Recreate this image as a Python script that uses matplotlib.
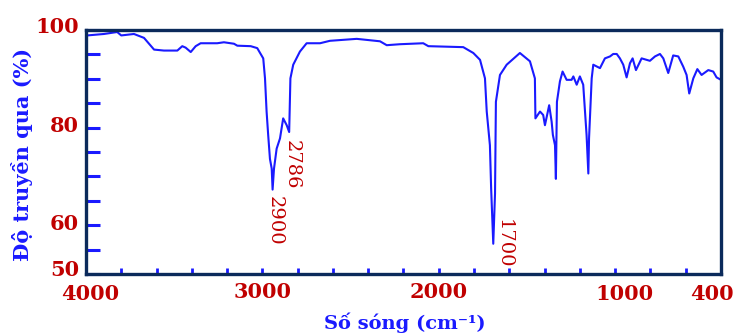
import matplotlib
matplotlib.use('Agg')
import matplotlib.pyplot as plt
import matplotlib.transforms as mtransforms

# IR spectrum (wavenumber in cm-1, transmittance in %)
wavenumber = [3993, 3898, 3823, 3800, 3728, 3671, 3614, 3558, 3482, 3454,
              3435, 3406, 3378, 3350, 3256, 3218, 3161, 3142, 3066, 3029,
              2995, 2985, 2976, 2967, 2957, 2947, 2942, 2934, 2919, 2900,
              2882, 2862, 2848, 2841, 2825, 2787, 2749, 2673, 2617, 2465,
              2333, 2295, 2220, 2088, 2059, 1861, 1804, 1766, 1738, 1728,
              1710, 1703, 1691, 1681, 1676, 1653, 1615, 1540, 1483, 1455,
              1452, 1426, 1408, 1398, 1374, 1360, 1353, 1341, 1336, 1330,
              1313, 1298, 1275, 1247, 1237, 1218, 1200, 1181, 1162, 1152,
              1148, 1133, 1124, 1086, 1058, 1029, 1011, 991, 973, 954,
              935, 916, 901, 882, 850, 803, 774, 746, 727, 699,
              671, 642, 614, 595, 580, 557, 534, 510, 472, 444,
              425, 400]
transmittance = [98.9, 99.2, 99.6, 98.9, 99.2, 98.4, 96.0, 95.8, 95.8, 96.7,
                 96.4, 95.5, 96.7, 97.3, 97.3, 97.5, 97.2, 96.8, 96.7, 96.3,
                 94.2, 90.1, 83.3, 78.5, 73.6, 71.6, 67.3, 71.6, 75.7, 77.8,
                 81.9, 80.5, 79.1, 90.1, 92.9, 95.6, 97.3, 97.3, 97.8, 98.2,
                 97.7, 96.9, 97.1, 97.3, 96.7, 96.5, 95.3, 93.9, 90.1, 83.3,
                 76.4, 67.5, 56.2, 66.5, 85.3, 90.8, 92.9, 95.3, 93.6, 90.1,
                 81.9, 83.3, 82.6, 80.5, 84.6, 81.2, 78.5, 76.4, 69.5, 85.3,
                 89.5, 91.5, 89.8, 89.8, 90.5, 88.8, 90.5, 88.8, 78.5, 70.6,
                 77.8, 90.1, 92.9, 92.2, 94.2, 94.6, 95.1, 95.1, 94.2, 92.9,
                 90.3, 93.2, 94.2, 91.8, 94.2, 93.7, 94.6, 95.1, 94.2, 91.2,
                 94.8, 94.6, 92.5, 90.8, 87.0, 90.1, 92.0, 90.8, 91.8, 91.5,
                 90.3, 89.8]

peak_labels = ['2900', '2786', '1700']
peak_label_x = [2929, 2832, 1630]
peak_label_top = [66.0, 77.4, 61.3]

x_ticks = [4000, 3800, 3600, 3400, 3200, 3000, 2800, 2600, 2400, 2200, 2000,
           1800, 1600, 1400, 1200, 1000, 800, 600, 400]
x_labeled = [4000, 3000, 2000, 1000, 400]
y_ticks = [50, 55, 60, 65, 70, 75, 80, 85, 90, 95, 100]
y_labeled = [50, 60, 80, 100]

RED = '#c00000'
BLUE = '#1a1aff'
FRAME = '#0b2a5b'

plt.rcParams['font.family'] = ['DejaVu Serif']

fig = plt.figure(figsize=(7.36, 3.36), dpi=100)
ax = fig.add_axes([0.1168, 0.1845, 0.8628, 0.726])

ax.plot(wavenumber, transmittance, color=BLUE, linewidth=1.5)

ax.set_xlim(4000, 400)
ax.set_ylim(50, 100)

for s in ax.spines.values():
    s.set_color(FRAME)
    s.set_linewidth(2.4)

ax.set_xticks(x_ticks)
ax.set_xticklabels([str(v) if v in x_labeled else '' for v in x_ticks])
ax.set_yticks(y_ticks)
ax.set_yticklabels([str(v) if v in y_labeled else '' for v in y_ticks])

ax.tick_params(axis='x', direction='in', length=4, width=2, color=BLUE,
               labelcolor=RED, labelsize=15, pad=6)
ax.tick_params(axis='y', direction='in', length=10, width=2.2, color=BLUE,
               labelcolor=RED, labelsize=15, pad=5)
for lab in ax.get_xticklabels() + ax.get_yticklabels():
    lab.set_fontweight('bold')


def shift(label, dx_px, dy_px):
    label.set_transform(label.get_transform() + mtransforms.ScaledTranslation(
        dx_px / 100, dy_px / 100, fig.dpi_scale_trans))


# the two upper ticks are a lighter steel blue, labels sit a bit high
y_nudge = {50: 6, 60: 3, 80: 4, 100: 5}
for tick in ax.yaxis.get_major_ticks():
    loc = tick.get_loc()
    if loc in (90, 95):
        tick.tick1line.set_color('#5b8ac0')
    if loc in y_nudge:
        shift(tick.label1, 0, y_nudge[loc])

# nudge the 1000 and 400 labels like in the original
x_nudge = {4000: 4, 1000: 9, 400: -9}
for tick in ax.xaxis.get_major_ticks():
    loc = tick.get_loc()
    if loc in x_nudge:
        shift(tick.label1, x_nudge[loc], -2)

for txt, px, py in zip(peak_labels, peak_label_x, peak_label_top):
    ax.text(px, py, txt, rotation=-90, ha='center', va='top',
            color=RED, fontsize=14)

fig.text(0.030, 0.540, 'Độ truyền qua (%)', rotation=90, ha='center',
         va='center', color=BLUE, fontsize=15, fontweight='bold')
fig.text(0.550, 0.038, 'Số sóng (cm⁻¹)', ha='center', va='center',
         color=BLUE, fontsize=14, fontweight='bold')

fig.savefig('out.png', dpi=100)
